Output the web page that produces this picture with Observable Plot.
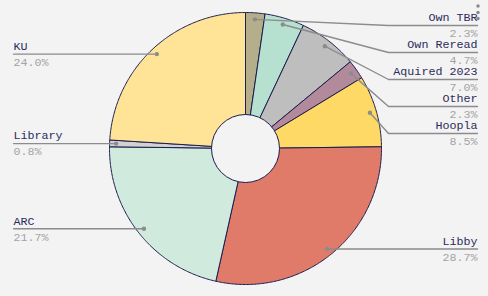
<!DOCTYPE html>
<html>
<head>
<meta charset="utf-8">
<script src="https://cdn.jsdelivr.net/npm/d3@7"></script>
<script src="https://cdn.jsdelivr.net/npm/@observablehq/plot@0.6"></script>
<style>
  html, body { margin: 0; padding: 0; background: #f3f3f3; }
  #chart { width: 488px; height: 296px; position: relative; }
  .menu { position: absolute; left: 474px; top: 2px; }
</style>
</head>
<body>
<div id="chart"></div>
<script>
// ---- data ----
const labels = ["Own TBR", "Own Reread", "Aquired 2023", "Other", "Hoopla", "Libby", "ARC", "Library", "KU"];
const values = [2.3, 4.7, 7.0, 2.3, 8.5, 28.7, 21.7, 0.8, 24.0];
const colors = ["#b5ae8b", "#b6e0cf", "#bebebe", "#b38a9b", "#ffd966", "#e07b6a", "#d0eadd", "#d2d2d2", "#ffe397"];

// ---- layout ----
const W = 488, H = 296, CX = 245, CY = 148, R = 136, HOLE = 34;
const navy = "#1c1c4e";
const pie = d3.pie().sort(null).value(d => d.value);
const arcs = pie(labels.map((l, i) => ({label: l, value: values[i], color: colors[i]})));

// slice polygons in units of R (y up)
const poly = [];
arcs.forEach(a => {
  const n = Math.max(2, Math.ceil((a.endAngle - a.startAngle) / 0.01));
  poly.push({label: a.data.label, x: 0, y: 0});
  for (let k = 0; k <= n; k++) {
    const t = a.startAngle + (a.endAngle - a.startAngle) * k / n;
    poly.push({label: a.data.label, x: Math.sin(t), y: Math.cos(t)});
  }
  poly.push({label: a.data.label, x: 0, y: 0});
});

// label layout
const info = arcs.map(a => {
  const m = (a.startAngle + a.endAngle) / 2;
  return {label: a.data.label, value: a.data.value, side: Math.sin(m) >= 0 ? 1 : -1,
          dx: 0.952 * Math.sin(m), dy: 0.952 * Math.cos(m)};
});
[1, -1].forEach(side => {
  const items = info.filter(d => d.side === side).sort((a, b) => b.dy - a.dy);
  let prev = -Infinity;
  items.forEach(d => {
    const py = CY - d.dy * R;
    const ly = Math.max(py, prev + 27, 25);
    prev = ly;
    d.ly = (CY - ly) / R;
  });
});
const elbow = 143 / R, endX = 232 / R;
const leaders = [];
info.forEach(d => {
  leaders.push({label: d.label, x: d.dx, y: d.dy});
  leaders.push({label: d.label, x: d.side * elbow, y: d.ly});
  leaders.push({label: d.label, x: d.side * endX, y: d.ly});
});
const textData = info.map(d => ({...d, tx: d.side * endX, pct: d.value.toFixed(1) + "%"}));

const FS = 11.7;
const chart = Plot.plot({
  width: W, height: H,
  margin: 0,
  x: {domain: [-CX / R, (W - CX) / R], axis: null},
  y: {domain: [-(H - CY) / R, CY / R], axis: null},
  color: {domain: labels, range: colors},
  style: {background: "#f3f3f3", fontFamily: "'Liberation Mono'", fontSize: FS + "px"},
  marks: [
    Plot.line(poly, {x: "x", y: "y", z: "label", fill: "label", stroke: navy, strokeWidth: 1, curve: "linear"}),
    Plot.dot([{x: 0, y: 0}], {x: "x", y: "y", r: HOLE, fill: "#f3f3f3", stroke: navy, strokeWidth: 1}),
    Plot.line(leaders, {x: "x", y: "y", z: "label", stroke: "#8c8c8c", strokeWidth: 1.4}),
    Plot.dot(info, {x: "dx", y: "dy", r: 2.2, fill: "#8c8c8c"}),
    Plot.text(textData.filter(d => d.side > 0), {x: "tx", y: "ly", text: "label", textAnchor: "end", dy: -8, fill: "#2c2c5c", fontSize: FS}),
    Plot.text(textData.filter(d => d.side < 0), {x: "tx", y: "ly", text: "label", textAnchor: "start", dy: -8, fill: "#2c2c5c", fontSize: FS}),
    Plot.text(textData.filter(d => d.side > 0), {x: "tx", y: "ly", text: "pct", textAnchor: "end", dy: 8, fill: "#a4a4a4", fontSize: FS}),
    Plot.text(textData.filter(d => d.side < 0), {x: "tx", y: "ly", text: "pct", textAnchor: "start", dy: 8, fill: "#a4a4a4", fontSize: FS})
  ]
});
document.getElementById("chart").appendChild(chart);
const menu = document.createElement("div");
menu.className = "menu";
menu.innerHTML = '<svg width="8" height="20"><circle cx="4" cy="4" r="1.7" fill="#888"/><circle cx="4" cy="10.5" r="1.7" fill="#888"/><circle cx="4" cy="16.5" r="1.7" fill="#888"/></svg>';
document.getElementById("chart").appendChild(menu);
</script>
</body>
</html>
